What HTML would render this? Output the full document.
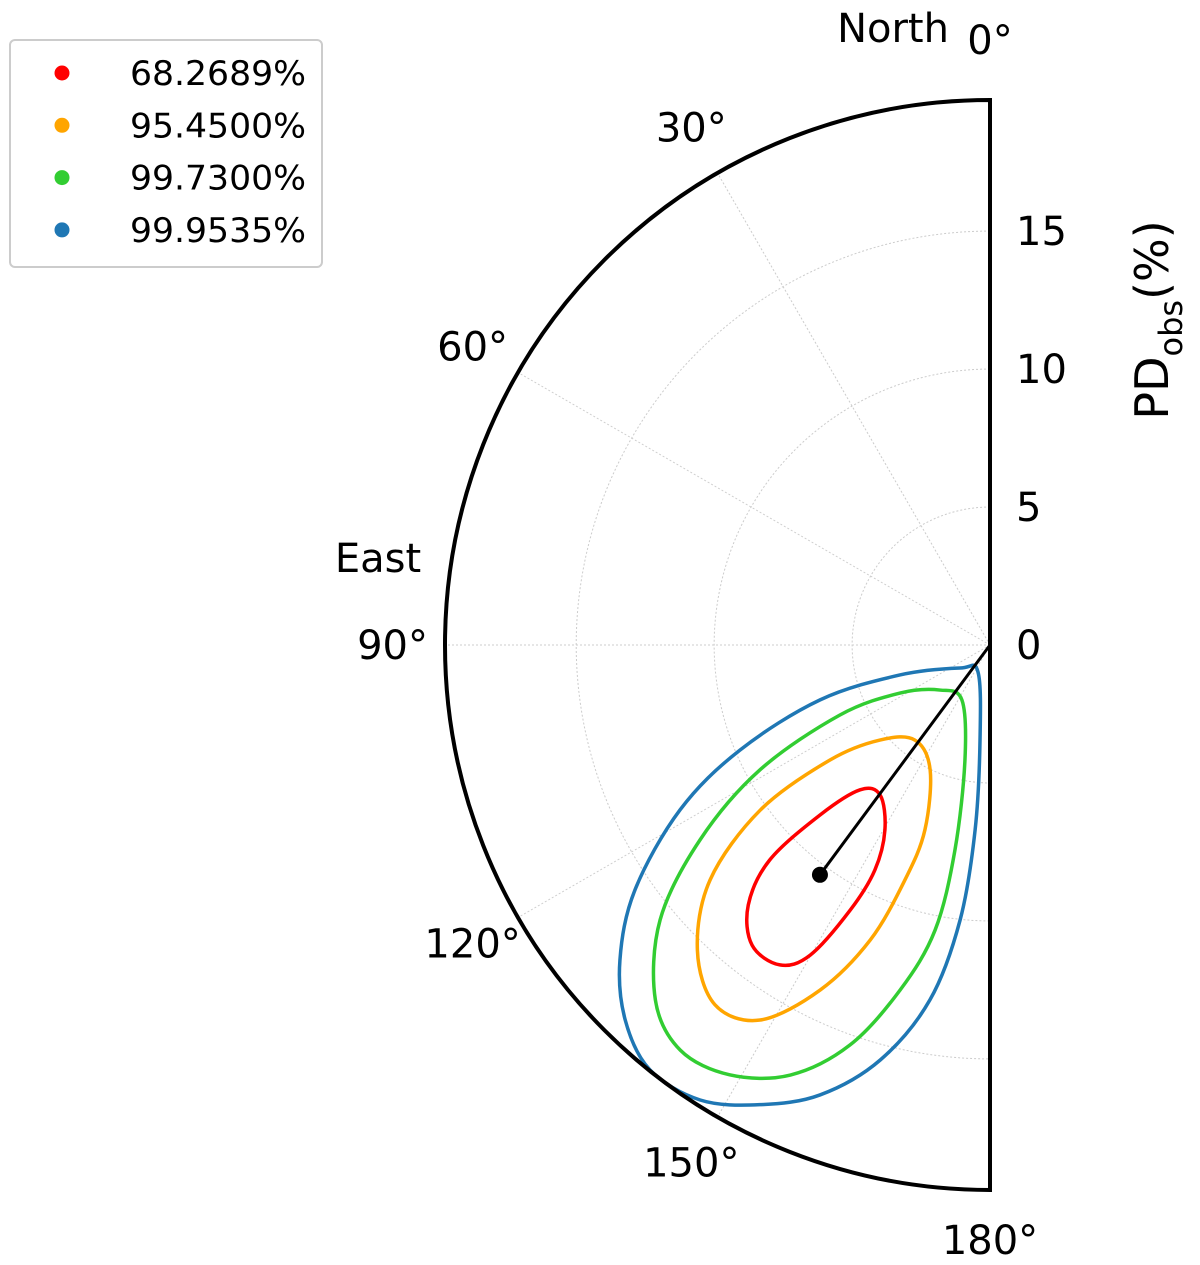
<!DOCTYPE html>
<html><head><meta charset="utf-8"><style>
html,body{margin:0;padding:0;background:#fff;}
svg{display:block;font-family:"DejaVu Sans","Liberation Sans",sans-serif;}
</style></head><body>
<svg id="chart" width="1200" height="1265" viewBox="0 0 1200 1265">
<g id="grid"></g>
<g id="contours"></g>
<g id="axes"></g>
<g id="legend">
<rect x="10" y="40" width="312" height="227" rx="5" fill="#fff" stroke="#ccc" stroke-width="2"/>
</g>
</svg>
<script>
const rMax = 19.75;
const radialTicks = [0,5,10,15];
const angleTicks = [0,30,60,90,120,150,180];
const labels = ["68.2689%","95.4500%","99.7300%","99.9535%"];
const colors = ["#ff0000","#ffa500","#32cd32","#1f77b4"];
const redAngle = [150.4,143.8,138.1,135,134.3,137.1,141.6,146.7,149.9,152.2,152.9];
const redPD = [7.71,6.74,7.05,8.71,11.15,12.87,13.88,13.87,12.99,10.86,9.16];
const orangeAngle = [141.7,154.4,160.6,160.1,157.9,153.8,148.5,142.6,136.2,130,125.7,125.7,130.8];
const orangePD = [4.39,5.02,7.10,9.05,11.54,13.93,15.94,16.41,15.32,13.24,10.25,7.14,5.27];
const greenAngle = [132,153,167.7,170.3,169.1,165.4,160.7,155.1,148.8,142.6,136.7,129.8,123.9,118.5,115,118.1];
const greenPD = [2.44,2.24,4.26,7.54,10.52,12.92,15.36,17.18,18.21,18.48,17.68,15.56,12.66,9.49,6.00,3.70];
const blueAngle = [127.5,156,174,175.4,173.8,170.4,165.2,159.3,153.4,147.5,141.3,135.8,130.4,124.6,118,112.8,107.9,108.4];
const bluePD = [1.37,1.07,3.46,6.72,10.02,13.04,15.55,17.43,18.63,19.55,19.72,18.96,17.61,15.63,12.72,9.83,6.47,3.44];
const bestAngle = 143.5;
const bestPD = 10.36;

const NS="http://www.w3.org/2000/svg";
const cx=990, cy=645, R=545;
function rs(v){return v/rMax*R;}
function pt(a,v){const t=a*Math.PI/180;return [cx-rs(v)*Math.sin(t), cy-rs(v)*Math.cos(t)];}
function mk(tag,attrs,parent){const e=document.createElementNS(NS,tag);for(const k in attrs)e.setAttribute(k,attrs[k]);parent.appendChild(e);return e;}
const grid=document.getElementById('grid'), axes=document.getElementById('axes'), cg=document.getElementById('contours'), lg=document.getElementById('legend');

radialTicks.forEach(v=>{
  if(v>0){
    const p1=pt(0,v), p2=pt(180,v);
    const c=mk('path',{d:`M${p1[0]},${p1[1]} A${rs(v)},${rs(v)} 0 0 0 ${p2[0]},${p2[1]}`,fill:'none',stroke:'#ccc','stroke-width':1,'stroke-dasharray':'2,2'},grid);
    
    
  }
  const t=mk('text',{x:1016,y:cy-rs(v)+14,'font-size':40,fill:'#000'},axes);
  t.textContent=v;
  
  
});
angleTicks.forEach(a=>{
  const p=pt(a,rMax);
  if(a>0&&a<180){
    const l=mk('line',{x1:cx,y1:cy,x2:p[0],y2:p[1],stroke:'#ccc','stroke-width':1,'stroke-dasharray':'2,2'},grid);
    
    
  }
  const lp=pt(a,rMax+1.9);
  let x=lp[0], y=lp[1]+14;
  if(a===0){x=990;y=54;} if(a===180){x=990;y=1254;}
  const t=mk('text',{x:x,y:y,'font-size':40,'text-anchor':'middle',fill:'#000'},axes);
  t.textContent=a+'°';
  
  
});
const po=pt(0,rMax), pb=pt(180,rMax);
const arc=mk('path',{d:`M${po[0]},${po[1]} A${R},${R} 0 0 0 ${pb[0]},${pb[1]} Z`,fill:'none',stroke:'#000','stroke-width':4},axes);


[['North',893,42,'north-label'],['East',378,572,'east-label']].forEach(d=>{
  const t=mk('text',{x:d[1],y:d[2],'font-size':40,'text-anchor':'middle',fill:'#000'},axes);
  t.textContent=d[0];
  
  
});
const yl=mk('text',{x:0,y:0,'font-size':46,'text-anchor':'middle',fill:'#000',transform:'translate(1168,320) rotate(-90)'},axes);
yl.innerHTML='PD<tspan font-size="32" dy="14">obs</tspan><tspan dy="-14">(%)</tspan>';



function smooth(ps){
  const n=ps.length;let d=`M${ps[0][0]},${ps[0][1]}`;
  for(let i=0;i<n;i++){
    const p0=ps[(i-1+n)%n],p1=ps[i],p2=ps[(i+1)%n],p3=ps[(i+2)%n];
    const c1=[p1[0]+(p2[0]-p0[0])/6,p1[1]+(p2[1]-p0[1])/6];
    const c2=[p2[0]-(p3[0]-p1[0])/6,p2[1]-(p3[1]-p1[1])/6];
    d+=` C${c1[0]},${c1[1]} ${c2[0]},${c2[1]} ${p2[0]},${p2[1]}`;
  }
  return d+'Z';
}
const series=[[blueAngle,bluePD,3,'contour-99.9535'],[greenAngle,greenPD,2,'contour-99.7300'],[orangeAngle,orangePD,1,'contour-95.4500'],[redAngle,redPD,0,'contour-68.2689']];
series.forEach(s=>{
  const ps=s[0].map((a,i)=>pt(a,s[1][i]));
  const p=mk('path',{d:smooth(ps),fill:'none',stroke:colors[s[2]],'stroke-width':3.5},cg);
  
  
});
const bp=pt(bestAngle,bestPD);
const bl=mk('line',{x1:cx,y1:cy,x2:bp[0],y2:bp[1],stroke:'#000','stroke-width':3},cg);


const bd=mk('circle',{cx:bp[0],cy:bp[1],r:8,fill:'#000'},cg);



labels.forEach((l,i)=>{
  const y=73+i*52.3;
  const c=mk('circle',{cx:62,cy:y,r:7.5,fill:colors[i]},lg);
  
  
  const t=mk('text',{x:130,y:y+12,'font-size':34,fill:'#000',textLength:176,lengthAdjust:'spacingAndGlyphs'},lg);
  t.textContent=l;
  
  
});
</script>
</body></html>
